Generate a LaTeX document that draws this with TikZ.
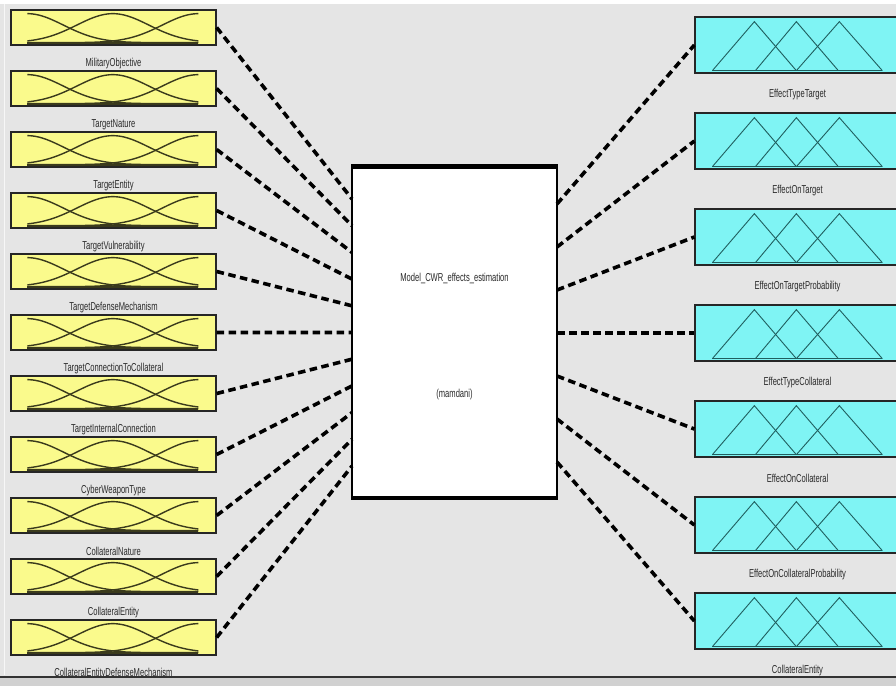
\documentclass[tikz,border=0pt]{standalone}
\usepackage{fontspec}
\newfontfamily\labfont[FakeStretch=0.66]{Liberation Sans}
\usetikzlibrary{calc}
\definecolor{bg}{HTML}{E5E5E5}
\definecolor{yfill}{HTML}{FAFA8C}
\definecolor{cfill}{HTML}{7FF4F4}
\definecolor{mfcol}{HTML}{3A3A1C}
\definecolor{tricol}{HTML}{1F5E5E}
\definecolor{labcol}{HTML}{2A2A2A}
\tikzset{
  lbox/.style={draw=black!85, line width=1.3pt, fill=yfill, minimum width=205pt, minimum height=35pt, inner sep=0pt},
  rbox/.style={draw=black!85, line width=1.3pt, fill=cfill, minimum width=205pt, minimum height=56pt, inner sep=0pt},
  cbox/.style={draw=black, line width=1.5pt, fill=white, minimum width=205pt, minimum height=334pt, inner sep=0pt},
  lab/.style={font=\labfont\fontsize{11.5}{12}\selectfont, text=labcol, inner sep=0pt},
  conn/.style={line width=3.6pt, dash pattern=on 7.5pt off 4.5pt, black},
  mf/.style={mfcol, line width=1.4pt},
  tri/.style={tricol, line width=0.9pt}
}
\begin{document}
\begin{tikzpicture}[x=1pt,y=-1pt]
\clip (0,0) rectangle (896,686);
\useasboundingbox (0,0) rectangle (896,686);
\fill[bg] (0,0) rectangle (896,686);
\fill[white] (0,0) rectangle (896,4);
\draw[white!70!bg, line width=1pt] (4,4) -- (4,675);

% centre box
\node[cbox] (C) at (454.5,332) {};
\draw[line width=4.5pt] ([yshift=-2pt]C.north west) -- ([yshift=-2pt]C.north east);
\draw[line width=4.5pt] ([yshift=2pt]C.south west) -- ([yshift=2pt]C.south east);
\node[lab] (ctitle) at (454.5,278) {Model\_CWR\_effects\_estimation};
\node[lab] (ctype) at (454.5,395) {(mamdani)};

% left inputs
\foreach \i/\nm in {0/MilitaryObjective,1/TargetNature,2/TargetEntity,3/TargetVulnerability,4/TargetDefenseMechanism,5/TargetConnectionToCollateral,6/TargetInternalConnection,7/CyberWeaponType,8/CollateralNature,9/CollateralEntity,10/CollateralEntityDefenseMechanism}{
  \node[lbox] (L\i) at (113.5,{27.5+61*\i}) {};
  \begin{scope}[shift={(L\i.south west)}]
    \draw[mf] plot[domain=17:188, samples=70, smooth] (\x,{-3-29*exp(-0.5*((\x-17)/36)^2)});
    \draw[mf] plot[domain=17:188, samples=70, smooth] (\x,{-3-29*exp(-0.5*((\x-102.5)/36)^2)});
    \draw[mf] plot[domain=17:188, samples=70, smooth] (\x,{-3-29*exp(-0.5*((\x-188)/36)^2)});
    \draw[mfcol, line width=2.4pt] (17,-2.5) -- (188,-2.5);
  \end{scope}
  \node[lab] (LL\i) at ($(L\i.south)+(0,18)$) {\nm};
  \coordinate (CL\i) at (352,{199+26.7*\i});
  \draw[conn] (L\i.east) -- (CL\i);
}

% right outputs
\foreach \j/\nm in {0/EffectTypeTarget,1/EffectOnTarget,2/EffectOnTargetProbability,3/EffectTypeCollateral,4/EffectOnCollateral,5/EffectOnCollateralProbability,6/CollateralEntity}{
  \node[rbox] (R\j) at (797.5,{45+96*\j}) {};
  \begin{scope}[shift={(R\j.south west)}]
    \draw[tri] (18,-3) -- (60,-52) -- (102,-3);
    \draw[tri] (61,-3) -- (102,-52) -- (144,-3);
    \draw[tri] (102,-3) -- (145,-52) -- (188,-3);
    \draw[tri, line width=1.6pt] (18,-3) -- (188,-3);
  \end{scope}
  \node[lab] (RL\j) at ($(R\j.south)+(0,21)$) {\nm};
  \coordinate (CR\j) at (557,{204+43*\j});
  \draw[conn] (CR\j) -- (R\j.west);
}

% bottom frame
\fill[black!18] (0,678) rectangle (896,686);
\draw[black!80, line width=2pt] (0,677) -- (896,677);
\end{tikzpicture}
\end{document}
